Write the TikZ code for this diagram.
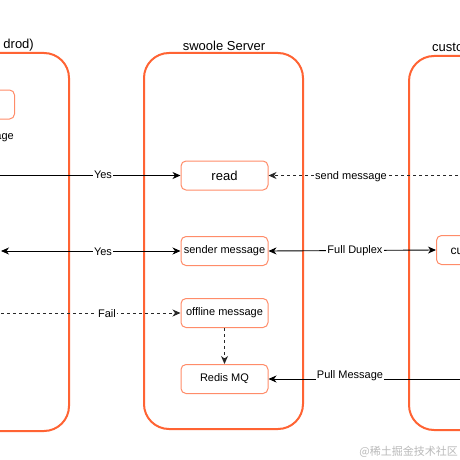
\documentclass[tikz,border=0pt]{standalone}
\usepackage{fontspec}
\setmainfont{Liberation Sans}
\newfontfamily\cjkfont{Noto Sans CJK SC}
\usetikzlibrary{arrows.meta}
\definecolor{boxred}{RGB}{255,99,51}
\definecolor{smallred}{RGB}{255,140,105}
\definecolor{wm}{RGB}{185,185,185}
\definecolor{dashgray}{RGB}{40,40,40}
\tikzset{
  bigbox/.style={draw=boxred, line width=2pt, rounded corners=25pt},
  smallbox/.style={draw=smallred, fill=white, line width=1pt, rounded corners=5pt,
    minimum width=87pt, minimum height=29pt, inner sep=0pt, font=\fontsize{11}{13}\selectfont},
  tip/.tip={Stealth[length=8pt,width=7pt,inset=2.5pt]},
  conn/.style={line width=0.9pt, -tip},
  both/.style={line width=0.9pt, tip-tip},
  dconn/.style={conn, draw=dashgray, dash pattern=on 3pt off 3pt},
  lbl/.style={fill=white, inner sep=1pt, font=\fontsize{11}{13}\selectfont},
  ttl/.style={inner sep=0pt, font=\fontsize{13}{15}\selectfont}
}
\begin{document}
\begin{tikzpicture}[x=1pt,y=-1pt]
\useasboundingbox (0,0) rectangle (460,460);
\clip (0,0) rectangle (460,460);
% big containers
\draw[bigbox] (-120,53) rectangle (69,431);
\draw[bigbox] (144,53) rectangle (303,429);
\draw[bigbox] (409,56) rectangle (600,430);
% titles
\node[ttl, anchor=east] (t1) at (34,45) {drod)};
\node[ttl] (t2) at (224,46) {swoole Server};
\node[ttl, anchor=west] (t3) at (432,47) {customer service};
% left column fragments
\node[smallbox, anchor=east] (lbox) at (15,104.5) {};
\node[anchor=east, inner sep=0pt, font=\fontsize{11}{13}\selectfont] (ltxt) at (14,138) {message};
% server nodes
\node[smallbox, font=\fontsize{13}{15}\selectfont] (read) at (224.5,175.5) {read};
\node[smallbox] (sender) at (224.5,251) {sender message};
\node[smallbox] (offline) at (224.5,313) {offline message};
\node[smallbox] (redis) at (224.5,379) {Redis MQ};
% right column
\node[smallbox, anchor=west, inner xsep=14pt, font=\fontsize{12}{14}\selectfont] (cu) at (436,250) {customer service};
% free ends
\coordinate (L1) at (-5,175.5);
\coordinate (L2) at (1,251);
\coordinate (L3) at (-5,313);
\coordinate (R1) at (470,175.5);
\coordinate (R4) at (470,379);
% connectors
\draw[conn] (L1) -- (read.west);
\node[lbl] (y1) at (103,175) {Yes};
\draw[dconn] (R1) -- (read.east);
\node[lbl] (s1) at (351,177) {send message};
\draw[both] (L2) -- (sender.west);
\node[lbl] (y2) at (103,252) {Yes};
\draw[both] (sender.east) -- (cu.west);
\node[lbl] (fd) at (355,251) {Full Duplex};
\draw[dconn] (L3) -- (offline.west);
\node[lbl] (f1) at (107,314) {Fail};
\draw[dconn] (offline.south) -- (redis.north);
\draw[conn] (R4) -- (redis.east);
\node[lbl, inner sep=0.5pt] (pm) at (350,376) {Pull Message};
% watermark
\node[anchor=east, inner sep=0pt, text=wm, font=\cjkfont\fontsize{11}{13}\selectfont] (wmk) at (458,452) {@稀土掘金技术社区};
\end{tikzpicture}
\end{document}
